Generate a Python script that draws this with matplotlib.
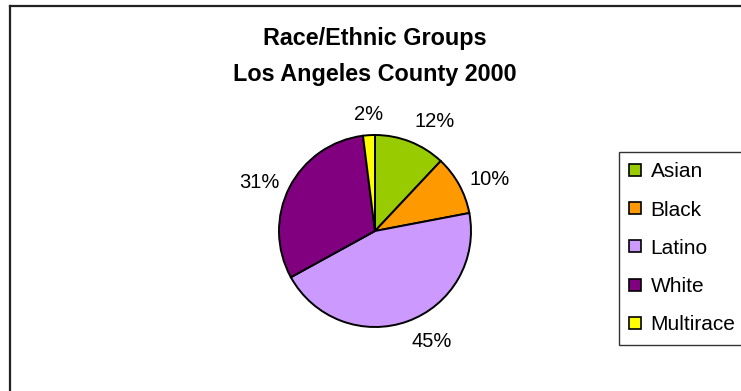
import numpy as np
import matplotlib.pyplot as plt
from matplotlib.lines import Line2D

plt.rcParams['font.family'] = ['Liberation Sans', 'DejaVu Sans']

# 2000 census shares, LA County
groups = ['Asian', 'Black', 'Latino', 'White', 'Multirace']
shares = [12, 10, 45, 31, 2]
colors = ['#99CC00', '#FF9900', '#CC99FF', '#800080', '#FFFF00']

W, H = 741, 391
fig = plt.figure(figsize=(W / 100, H / 100), dpi=100)

# outer chart frame (top and left edges only show)
fig.add_artist(Line2D([9.5 / W, 9.5 / W], [0, 1 - 6 / H], color='#222222', lw=1.6))
fig.add_artist(Line2D([9.5 / W, 1], [1 - 6 / H, 1 - 6 / H], color='#222222', lw=1.6))

# pie axes: centre (375, 231) px, radius 96 px
cx, cy, r = 375, 231, 96
lim = 1.4
side = 2 * lim * r
ax = fig.add_axes([(cx - side / 2) / W, (H - cy - side / 2) / H, side / W, side / H])

wedges, texts, autotexts = ax.pie(
    shares, colors=colors, startangle=90, counterclock=False,
    autopct='%1.0f%%',
    wedgeprops=dict(edgecolor='black', linewidth=1.4),
    textprops=dict(fontsize=14.5, color='black'))
ax.set_xlim(-lim, lim)
ax.set_ylim(-lim, lim)
ax.set_aspect('equal')

# put each percentage just outside the rim, aligned away from the pie
for w, t in zip(wedges, autotexts):
    ang = np.deg2rad((w.theta1 + w.theta2) / 2)
    c, s = np.cos(ang), np.sin(ang)
    t.set_position((1.12 * c, 1.12 * s))
    t.set_ha('left' if c > 0.3 else 'right' if c < -0.3 else 'center')
    t.set_va('bottom' if s > 0.5 else 'top' if s < -0.5 else 'center')

fig.text(375 / W, 1 - 38 / H, 'Race/Ethnic Groups', ha='center', va='center',
         fontsize=16.8, fontweight='bold')
fig.text(375 / W, 1 - 75 / H, 'Los Angeles County 2000', ha='center', va='center',
         fontsize=16.8, fontweight='bold')

handles = [Line2D([], [], marker='s', linestyle='none', markersize=8.5,
                  markerfacecolor=c, markeredgecolor='black', markeredgewidth=1.2)
           for c in colors]
leg = fig.legend(handles, groups, loc='upper left',
                 bbox_to_anchor=(619 / W, 1 - 152 / H), bbox_transform=fig.transFigure,
                 fontsize=15, frameon=True, fancybox=False, edgecolor='black',
                 labelspacing=0.92, handlelength=0.58, handletextpad=0.43,
                 borderpad=0.5, borderaxespad=0)
leg.get_frame().set_linewidth(1.0)

fig.savefig('out.png', dpi=100)
